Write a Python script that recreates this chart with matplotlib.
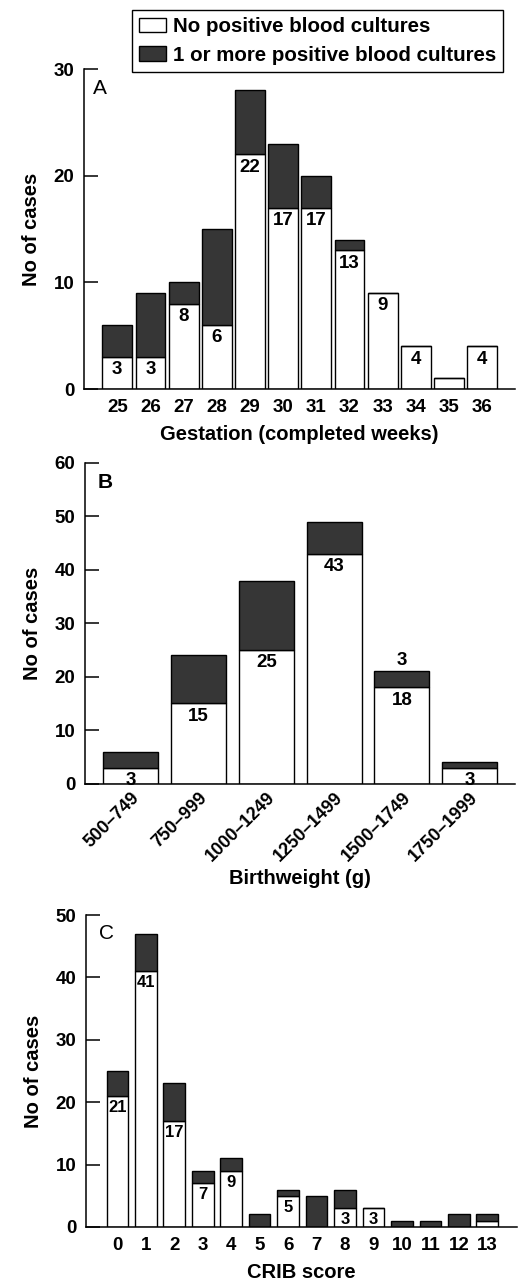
import numpy as np
import matplotlib
matplotlib.use('Agg')
import matplotlib.pyplot as plt
import matplotlib.transforms as mtransforms
from matplotlib.patches import Patch

plt.rcParams['font.family'] = ['Liberation Sans', 'DejaVu Sans']
plt.rcParams['font.weight'] = 'bold'
plt.rcParams['axes.labelweight'] = 'bold'

# Panel A: gestation
gest_weeks = ['25', '26', '27', '28', '29', '30', '31', '32', '33', '34', '35', '36']
gest_neg = [3, 3, 8, 6, 22, 17, 17, 13, 9, 4, 1, 4]
gest_pos = [3, 6, 2, 9, 6, 6, 3, 1, 0, 0, 0, 0]
gest_labels = ['3', '3', '8', '6', '22', '17', '17', '13', '9', '4', '', '4']

# Panel B: birthweight
bw_groups = ['500–749', '750–999', '1000–1249', '1250–1499', '1500–1749', '1750–1999']
bw_neg = [3, 15, 25, 43, 18, 3]
bw_pos = [3, 9, 13, 6, 3, 1]
bw_labels = ['3', '15', '25', '43', '18', '3']

# Panel C: CRIB score
crib_scores = [str(i) for i in range(14)]
crib_neg = [21, 41, 17, 7, 9, 0, 5, 0, 3, 3, 0, 0, 0, 1]
crib_pos = [4, 6, 6, 2, 2, 2, 1, 5, 3, 0, 1, 1, 2, 1]
crib_labels = ['21', '41', '17', '7', '9', '', '5', '', '3', '3', '', '', '', '']

dark = '#363636'

fig = plt.figure(figsize=(5.29, 12.81), dpi=100)
axA = fig.add_axes([0.159, 0.6963, 0.815, 0.2498])
axB = fig.add_axes([0.161, 0.3883, 0.813, 0.2503])
axC = fig.add_axes([0.1626, 0.0422, 0.815, 0.2435])


def style(ax, ymax, step):
    for s in ['top', 'right']:
        ax.spines[s].set_visible(False)
    for s in ['left', 'bottom']:
        ax.spines[s].set_linewidth(1.1)
    ax.spines['left'].set_bounds(0, ymax)
    ax.set_ylim(0, ymax)
    ax.set_yticks(np.arange(0, ymax + 1, step))
    ax.tick_params(axis='y', direction='in', length=10, width=1.1, pad=7, labelsize=13.5)
    ax.tick_params(axis='x', length=0, pad=7, labelsize=13.5)
    ax.set_ylabel('No of cases', fontsize=14.5, labelpad=9)


def draw(ax, x, neg, pos, labels, width, fs):
    ax.bar(x, neg, width, color='white', edgecolor='black', linewidth=1.0)
    ax.bar(x, pos, width, bottom=neg, color=dark, edgecolor='black', linewidth=1.0)
    for xi, n, lab in zip(x, neg, labels):
        if lab:
            ax.annotate(lab, (xi, n), xytext=(0, -3), textcoords='offset points',
                        ha='center', va='top', fontsize=fs, fontweight='bold')


# A
xA = np.arange(len(gest_weeks))
draw(axA, xA, gest_neg, gest_pos, gest_labels, 0.9, 13.5)
style(axA, 30, 10)
axA.set_xlim(-1.0, 12.0)
axA.set_xticks(xA)
axA.set_xticklabels(gest_weeks)
axA.set_xlabel('Gestation (completed weeks)', fontsize=14.5, labelpad=7)
axA.text(0.02, 0.97, 'A', transform=axA.transAxes, fontsize=15, va='top', fontweight='normal')

# B
xB = np.arange(len(bw_groups))
draw(axB, xB, bw_neg, bw_pos, bw_labels, 0.81, 13.5)
style(axB, 60, 10)
axB.set_xlim(-0.67, 5.67)
axB.set_xticks(xB)
axB.set_xticklabels(bw_groups, rotation=45, ha='right', va='top', rotation_mode='anchor',
                    fontsize=13)
shift = mtransforms.ScaledTranslation(12 / 72, 0, fig.dpi_scale_trans)
for lab in axB.get_xticklabels():
    lab.set_transform(lab.get_transform() + shift)
axB.tick_params(axis='x', pad=4)
axB.annotate('3', (4, bw_neg[4] + bw_pos[4]), xytext=(0, 2), textcoords='offset points',
             ha='center', va='bottom', fontsize=13.5, fontweight='bold')
axB.set_xlabel('Birthweight (g)', fontsize=14.5, labelpad=3)
axB.text(0.03, 0.97, 'B', transform=axB.transAxes, fontsize=15, va='top')

# C
xC = np.arange(len(crib_scores))
draw(axC, xC, crib_neg, crib_pos, crib_labels, 0.76, 12)
style(axC, 50, 10)
axC.set_xlim(-1.1, 14.05)
axC.set_xticks(xC)
axC.set_xticklabels(crib_scores)
axC.set_xlabel('CRIB score', fontsize=14.5, labelpad=7)
axC.text(0.03, 0.97, 'C', transform=axC.transAxes, fontsize=15, va='top', fontweight='normal')

handles = [Patch(facecolor='white', edgecolor='black', linewidth=1.0),
           Patch(facecolor=dark, edgecolor='black', linewidth=1.0)]
leg = fig.legend(handles, ['No positive blood cultures', '1 or more positive blood cultures'],
                 loc='upper right', bbox_to_anchor=(0.951, 0.992), fancybox=False,
                 edgecolor='black', framealpha=1, fontsize=14.8, borderaxespad=0,
                 handlelength=1.35, handleheight=0.7, handletextpad=0.3,
                 labelspacing=0.45, borderpad=0.35)
leg.get_frame().set_linewidth(1.0)

fig.savefig('out.png', dpi=100)
